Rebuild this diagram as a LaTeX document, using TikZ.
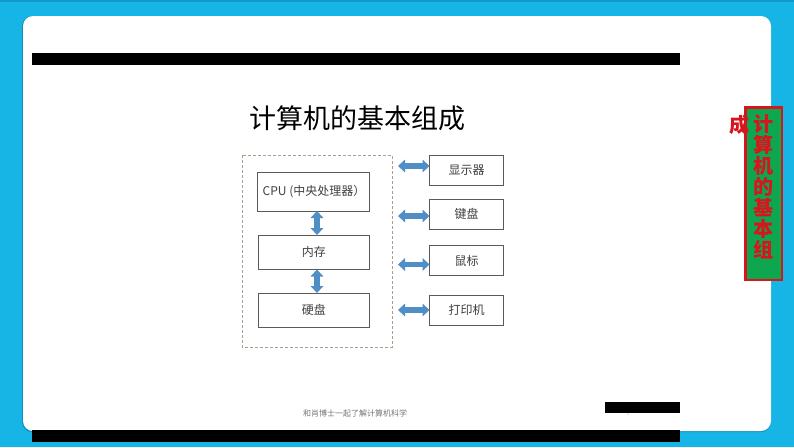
\documentclass[tikz,border=0pt]{standalone}
\usepackage{fontspec}
\setmainfont{Noto Sans CJK SC}
\usetikzlibrary{arrows.meta}
\definecolor{bgblue}{HTML}{17B4E6}
\definecolor{edgeblue}{HTML}{0E8FBC}
\definecolor{arrblue}{HTML}{4F8FC6}
\definecolor{boxline}{HTML}{5A5A5A}
\definecolor{dashline}{HTML}{A8A08C}
\definecolor{labeltext}{HTML}{404040}
\definecolor{tagfill}{HTML}{0FA650}
\definecolor{tagred}{HTML}{D8141C}
\tikzset{
  x=1pt,y=-1pt,
  unitbox/.style={draw=boxline,line width=1pt,fill=white,text=labeltext,font=\fontsize{12}{14}\selectfont,inner sep=0pt,outer sep=0pt,anchor=north west},
  link/.style={arrblue,line width=5.6pt,{Triangle[width=12.5pt,length=7pt]}-{Triangle[width=12.5pt,length=7pt]}},
  blackbar/.style={fill=black,draw=none},
  redchar/.style={text=tagred,font=\fontsize{20}{20}\selectfont\bfseries,inner sep=0pt}
}
\newcommand{\unitnode}[6]{\node[unitbox,minimum width=#4pt,minimum height=#5pt] (#1) at (#2,#3) {#6};}
\begin{document}
\begin{tikzpicture}
\useasboundingbox (0,0) rectangle (794,447);
\fill[bgblue] (0,0) rectangle (794,447);
\fill[edgeblue!70!bgblue] (0,0) rectangle (794,1.5);
\fill[edgeblue,rounded corners=10pt] (22,16) rectangle (771,432);
\fill[white,rounded corners=10pt] (23,16) rectangle (771,431);
% black bars
\fill[blackbar] (32,53) rectangle (680,65);
\fill[blackbar] (32,430) rectangle (680,442);
\fill[blackbar] (605,402) rectangle (680,413);
\node[text=gray!70,font=\fontsize{3}{3}\selectfont,inner sep=0pt] (pg) at (628,414.5) {2};
% title
\node[text=black,font=\fontsize{27}{30}\selectfont,inner sep=0pt] (title) at (357,118) {计算机的基本组成};
% dashed frame
\draw[dashline,line width=0.9pt,dash pattern=on 3pt off 2pt] (242,155) rectangle (392,347);
% units
\unitnode{cpu}{257.5}{172.5}{112}{38.5}{}
\node[text=labeltext,font=\fontsize{12}{14}\selectfont,inner sep=0pt] (cpulabel) at (314,192) {CPU (中央处理器）};
\unitnode{ram}{258}{235}{111.5}{34.5}{内存}
\unitnode{disk}{258}{293}{111.5}{34}{硬盘}
\unitnode{mon}{429.5}{155}{74}{30}{显示器}
\unitnode{key}{429.5}{199}{74}{30}{键盘}
\unitnode{mouse}{429.5}{245.5}{74}{30}{鼠标}
\unitnode{prn}{429.5}{295}{74}{30}{打印机}
% free arrow ends
\coordinate (mona) at (398,166);
\coordinate (keya) at (398,216);
\coordinate (mousea) at (398,264.5);
\coordinate (prna) at (398,310);
\draw[link] (mona) -- (mona -| mon.west);
\draw[link] (keya) -- (keya -| key.west);
\draw[link] (mousea) -- (mousea -| mouse.west);
\draw[link] (prna) -- (prna -| prn.west);
\coordinate (vx) at (317,0);
\draw[link] (vx |- cpu.south) -- (vx |- ram.north);
\draw[link] (vx |- ram.south) -- (vx |- disk.north);
% footer
\node[text=gray!90!black,font=\fontsize{8}{10}\selectfont,inner sep=0pt] (foot) at (355,413) {和肖博士一起了解计算机科学};
% green tag
\fill[tagfill] (745,107) rectangle (782,280);
\draw[tagred,line width=2.6pt] (745.5,107.5) rectangle (782,280);
\node[redchar] (c1) at (763,124) {计};
\node[redchar] (c2) at (763,145) {算};
\node[redchar] (c3) at (763,166) {机};
\node[redchar] (c4) at (763,187) {的};
\node[redchar] (c5) at (763,208) {基};
\node[redchar] (c6) at (763,229) {本};
\node[redchar] (c7) at (763,250) {组};
\node[redchar] (c8) at (739,125) {成};
\end{tikzpicture}
\end{document}
